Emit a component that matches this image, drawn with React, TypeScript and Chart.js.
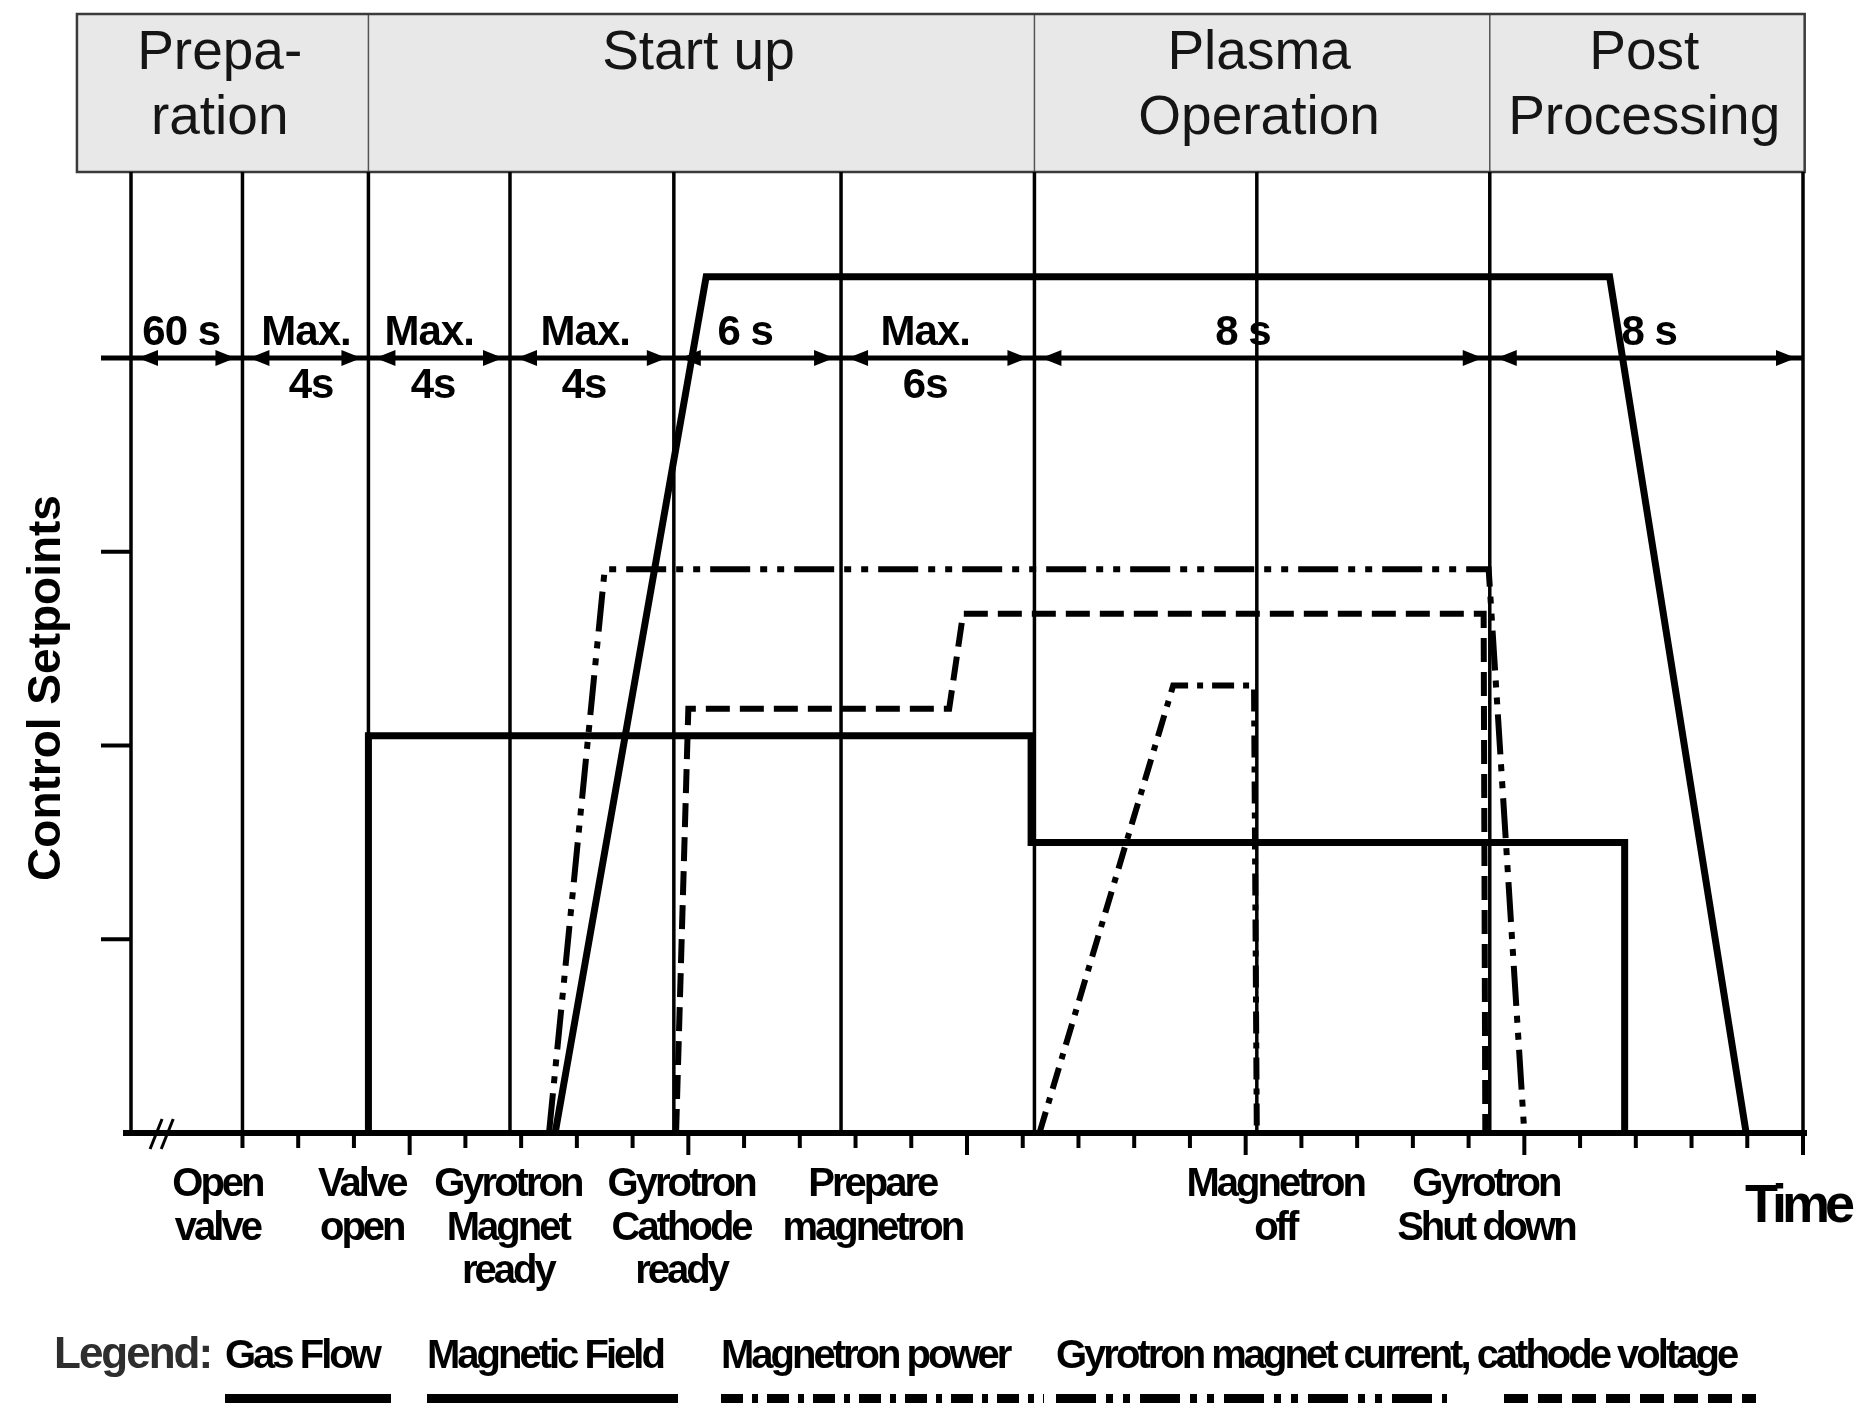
import React, { useEffect, useRef } from "react";
import { Chart, registerables } from "chart.js";
Chart.register(...registerables);

const W = 1860;
const H = 1403;

// ---- data ----
const phaseLabels = [["Prepa-", "ration"], ["Start up"], ["Plasma", "Operation"], ["Post", "Processing"]];
const phaseBounds = [-5.97, -0.74, 11.21, 19.38, 25.03];

const eventTimes = [-3.0, -0.74, 1.8, 4.74, 7.74, 11.21, 15.2, 19.38];
const eventLabelX = [-3.45, -0.86, 1.76, 4.87, 8.3, 15.53, 19.31];
const eventLabels = [
  ["Open", "valve"],
  ["Valve", "open"],
  ["Gyrotron", "Magnet", "ready"],
  ["Gyrotron", "Cathode", "ready"],
  ["Prepare", "magnetron"],
  ["Magnetron", "off"],
  ["Gyrotron", "Shut down"],
];

const durationBounds = [-5, -3, -0.74, 1.8, 4.74, 7.74, 11.21, 19.38, 25];
const durationTop = ["60 s", "Max.", "Max.", "Max.", "6 s", "Max.", "8 s", "8 s"];
const durationTopX = [-4.1, -1.86, 0.35, 3.15, 6.02, 9.25, 14.95, 22.24];
const durationBottom = ["", "4s", "4s", "4s", "", "6s", "", ""];
const durationBottomX = [0, -1.77, 0.42, 3.13, 0, 9.25, 0, 0];
const durationLevel = 4;

const yTickValues = [1, 2, 3];
const xTickStart = -3;
const xTickEnd = 25;

const gasFlowX = [-0.74, -0.74, 11.15, 11.15, 21.8, 21.8];
const gasFlowY = [0, 2.05, 2.05, 1.5, 1.5, 0];
const magFieldX = [2.61, 5.32, 21.53, 23.98];
const magFieldY = [0, 4.42, 4.42, 0];
const magnetronX = [11.3, 13.7, 15.15, 15.2];
const magnetronY = [0, 2.31, 2.31, 0];
const gyroMagnetX = [2.5, 3.5, 19.36, 20.0];
const gyroMagnetY = [0, 2.91, 2.91, 0];
const cathodeX = [4.78, 5.0, 9.68, 9.93, 19.27, 19.3];
const cathodeY = [0, 2.19, 2.19, 2.68, 2.68, 0];

const legendTitle = "Legend:";
const legendLabels = ["Gas Flow", "Magnetic Field", "Magnetron power", "Gyrotron magnet current, cathode voltage"];

const yTitle = "Control Setpoints";
const xTitle = "Time";

// ---- styles ----
const DASH_MAGNETRON = [22, 9, 6, 9];
const DASH_GYRO = [40, 10, 7, 10, 7, 10];
const DASH_CATHODE = [24, 10];

const pts = (xs: number[], ys: number[]) => xs.map((x, i) => ({ x, y: ys[i] }));

function setSpacing(ctx: any, v: string) {
  try {
    ctx.letterSpacing = v;
  } catch (e) {}
}

const schematicPlugin = {
  id: "schematic",
  beforeDatasetsDraw(chart: any) {
    const { ctx, chartArea: ca, scales } = chart;
    const px = (v: number) => scales.x.getPixelForValue(v);
    ctx.save();
    // header box
    const hTop = 14;
    const hBot = ca.top;
    const hl = px(phaseBounds[0]);
    const hr = px(phaseBounds[phaseBounds.length - 1]);
    ctx.fillStyle = "#e8e8e8";
    ctx.fillRect(hl, hTop, hr - hl, hBot - hTop);
    ctx.strokeStyle = "#555";
    ctx.lineWidth = 1.5;
    for (let i = 1; i < phaseBounds.length - 1; i++) {
      const x = px(phaseBounds[i]);
      ctx.beginPath();
      ctx.moveTo(x, hTop);
      ctx.lineTo(x, hBot);
      ctx.stroke();
    }
    ctx.strokeStyle = "#3a3a3a";
    ctx.lineWidth = 2.5;
    ctx.strokeRect(hl, hTop, hr - hl, hBot - hTop);
    ctx.fillStyle = "#151515";
    ctx.font = '55px "Liberation Sans", Arial, sans-serif';
    ctx.textAlign = "center";
    ctx.textBaseline = "alphabetic";
    const baseL = [69, 134];
    phaseLabels.forEach((lines, i) => {
      const cx = (px(phaseBounds[i]) + px(phaseBounds[i + 1])) / 2;
      lines.forEach((t, j) => ctx.fillText(t, cx - 3, baseL[j]));
    });

    // vertical event lines + frame
    ctx.strokeStyle = "#000";
    ctx.lineWidth = 3.5;
    [...eventTimes, -5, 25].forEach((t) => {
      const x = px(t);
      ctx.beginPath();
      ctx.moveTo(x, ca.top);
      ctx.lineTo(x, ca.bottom);
      ctx.stroke();
    });
    ctx.restore();
  },
  afterDatasetsDraw(chart: any) {
    const { ctx, chartArea: ca, scales } = chart;
    const px = (v: number) => scales.x.getPixelForValue(v);
    const py = (v: number) => scales.y.getPixelForValue(v);
    ctx.save();
    ctx.strokeStyle = "#000";
    ctx.fillStyle = "#000";
    // x axis baseline
    ctx.lineWidth = 6;
    ctx.beginPath();
    ctx.moveTo(ca.left - 8, ca.bottom);
    ctx.lineTo(ca.right + 4, ca.bottom);
    ctx.stroke();
    // x ticks
    ctx.lineWidth = 4;
    for (let v = xTickStart; v <= xTickEnd; v++) {
      const len = v % 5 === 0 ? 22 : 15;
      const x = px(v);
      ctx.beginPath();
      ctx.moveTo(x, ca.bottom);
      ctx.lineTo(x, ca.bottom + len);
      ctx.stroke();
    }
    // axis break
    ctx.lineWidth = 3;
    [px(-4.55), px(-4.35)].forEach((x) => {
      ctx.beginPath();
      ctx.moveTo(x - 6, ca.bottom + 16);
      ctx.lineTo(x + 6, ca.bottom - 14);
      ctx.stroke();
    });
    // y ticks
    ctx.lineWidth = 4;
    yTickValues.forEach((v) => {
      const y = py(v);
      ctx.beginPath();
      ctx.moveTo(ca.left - 30, y);
      ctx.lineTo(ca.left, y);
      ctx.stroke();
    });
    // duration row
    const yd = py(durationLevel);
    ctx.lineWidth = 5;
    ctx.beginPath();
    ctx.moveTo(ca.left - 30, yd);
    ctx.lineTo(ca.right, yd);
    ctx.stroke();
    const tri = (tipX: number, dir: number) => {
      ctx.beginPath();
      ctx.moveTo(tipX, yd);
      ctx.lineTo(tipX + dir * 20, yd - 8);
      ctx.lineTo(tipX + dir * 20, yd + 8);
      ctx.closePath();
      ctx.fill();
    };
    for (let i = 0; i < durationBounds.length - 1; i++) {
      tri(px(durationBounds[i]) + 7, 1);
      tri(px(durationBounds[i + 1]) - 7, -1);
    }
    ctx.font = 'bold 42px "Liberation Sans", Arial, sans-serif';
    ctx.textAlign = "center";
    ctx.textBaseline = "alphabetic";
    setSpacing(ctx, "-1px");
    durationTop.forEach((t, i) => {
      ctx.fillText(t, px(durationTopX[i]), yd - 13);
    });
    durationBottom.forEach((t, i) => {
      if (t) ctx.fillText(t, px(durationBottomX[i]), yd + 40);
    });

    // event labels
    ctx.font = 'bold 40px "Liberation Sans", Arial, sans-serif';
    setSpacing(ctx, "-3px");
    const rows = [63, 107, 150];
    eventLabels.forEach((lines, i) => {
      lines.forEach((t, j) => ctx.fillText(t, px(eventLabelX[i]), ca.bottom + rows[j]));
    });

    // Time
    ctx.font = 'bold 54px "Liberation Sans", Arial, sans-serif';
    setSpacing(ctx, "-5px");
    ctx.textAlign = "right";
    ctx.fillText(xTitle, 1850, 1222);

    // y title
    setSpacing(ctx, "0px");
    ctx.save();
    ctx.translate(47, 688);
    ctx.rotate(-Math.PI / 2);
    ctx.textAlign = "center";
    ctx.textBaseline = "middle";
    ctx.font = 'bold 46px "Liberation Sans", Arial, sans-serif';
    ctx.fillText(yTitle, 0, 0);
    ctx.restore();

    // legend
    ctx.textAlign = "left";
    ctx.textBaseline = "alphabetic";
    ctx.font = 'bold 44px "Liberation Sans", Arial, sans-serif';
    setSpacing(ctx, "-2px");
    ctx.fillStyle = "#2e2e2e";
    ctx.fillText(legendTitle, 54, 1368);
    ctx.fillStyle = "#000";
    ctx.font = 'bold 40px "Liberation Sans", Arial, sans-serif';
    setSpacing(ctx, "-3px");
    const legX = [225, 427, 721, 1056];
    legendLabels.forEach((t, i) => ctx.fillText(t, legX[i], 1368));
    const sw: [number, number, number[]][] = [
      [225, 391, []],
      [427, 678, []],
      [721, 1044, DASH_MAGNETRON],
      [1056, 1447, DASH_GYRO],
      [1504, 1756, DASH_CATHODE],
    ];
    ctx.lineWidth = 16;
    sw.forEach(([a, b, d]) => {
      ctx.setLineDash(d);
      ctx.beginPath();
      ctx.moveTo(a, 1402);
      ctx.lineTo(b, 1402);
      ctx.stroke();
    });
    ctx.setLineDash([]);
    ctx.restore();
  },
};

export default function App() {
  const ref = useRef<HTMLCanvasElement | null>(null);
  useEffect(() => {
    document.body.style.margin = "0";
    const canvas = ref.current;
    if (!canvas) return;
    const base = {
      borderColor: "#000",
      pointRadius: 0,
      fill: false,
      tension: 0,
      borderCapStyle: "butt",
      borderJoinStyle: "miter",
      clip: false,
    };
    const chart = new Chart(canvas, {
      type: "line",
      data: {
        datasets: [
          { ...base, label: "Gas Flow", data: pts(gasFlowX, gasFlowY), borderWidth: 7 },
          { ...base, label: "Magnetic Field", data: pts(magFieldX, magFieldY), borderWidth: 7 },
          { ...base, label: "Magnetron power", data: pts(magnetronX, magnetronY), borderWidth: 6, borderDash: DASH_MAGNETRON },
          { ...base, label: "Gyrotron magnet current", data: pts(gyroMagnetX, gyroMagnetY), borderWidth: 6, borderDash: DASH_GYRO },
          { ...base, label: "Cathode voltage", data: pts(cathodeX, cathodeY), borderWidth: 6, borderDash: DASH_CATHODE },
        ] as any,
      },
      options: {
        animation: false,
        responsive: false,
        devicePixelRatio: 1,
        events: [],
        layout: { padding: { left: 131, right: 57, top: 172, bottom: 270 } },
        scales: {
          x: { type: "linear", min: -5, max: 25, display: false },
          y: { type: "linear", min: 0, max: 4.96, display: false },
        },
        plugins: { legend: { display: false }, tooltip: { enabled: false } },
      },
      plugins: [schematicPlugin],
    } as any);
    return () => chart.destroy();
  }, []);
  return (
    <div style={{ width: W, height: H, background: "#fff" }}>
      <canvas ref={ref} width={W} height={H} style={{ display: "block", width: W, height: H }} />
    </div>
  );
}
